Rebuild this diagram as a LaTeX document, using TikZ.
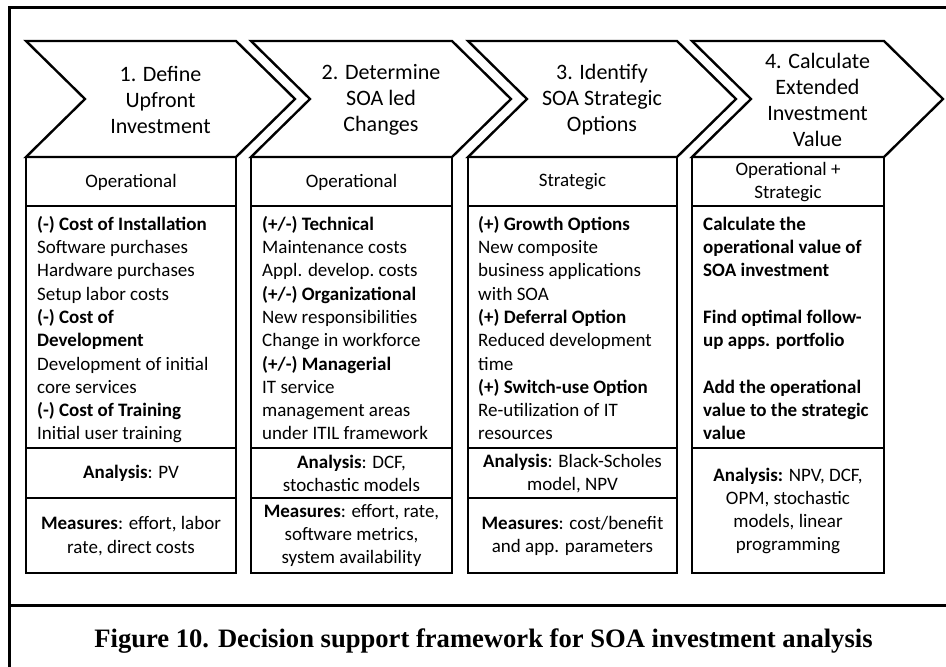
\documentclass[tikz,border=0pt]{standalone}
\usepackage{fontspec}
\setmainfont{Carlito}
\newfontfamily\capfont{Liberation Serif}
\begin{document}
\begin{tikzpicture}[
    x=1pt, y=-1pt,
    chev/.style={draw, line width=2.4pt, line join=miter},
    cell/.style={draw, line width=2.4pt},
    head/.style={align=center, inner sep=0, font=\fontsize{22}{26}\selectfont},
    kind/.style={align=center, inner sep=0, font=\fontsize{19}{23.3}\selectfont},
    body/.style={align=left, anchor=north west, inner sep=0, font=\fontsize{19}{23.3}\selectfont},
    info/.style={align=center, inner sep=0, font=\fontsize{19}{23.3}\selectfont}
]
    \useasboundingbox (0,0) rectangle (946,667);

    % Outer frame
    \draw[line width=3pt] (946,7) -- (9,7) -- (9,667);
    \draw[line width=3pt] (9,605) -- (946,605);

    % Step chevrons
    \foreach \L/\R/\txt [count=\i] in {26/236/{1. Define\\Upfront\\Investment},
        251/452/{2. Determine\\SOA led\\Changes},
        468/677/{3. Identify\\SOA Strategic\\Options},
        692/884/{4. Calculate\\Extended\\Investment\\Value}} {
        \draw[chev] (\L,41) -- (\R,41) -- (\R+59,99) -- (\R,157) -- (\L,157) -- (\L+59,99) -- cycle;
        \node[head] (step\i) at ({(\L+59+\R)/2},100) {\txt};
    }

    % Columns below the chevrons
    \foreach \L/\R in {26/236, 251/452, 468/677, 692/884} {
        \draw[cell] (\L,157) rectangle (\R,573);
        \draw[cell] (\L,206) -- (\R,206);
        \draw[cell] (\L,448) -- (\R,448);
    }
    \foreach \L/\R in {26/236, 251/452, 468/677} {
        \draw[cell] (\L,498) -- (\R,498);
    }

    % Value type
    \node[kind] (kind1) at (131,182) {Operational};
    \node[kind] (kind2) at (351.5,182) {Operational};
    \node[kind] (kind3) at (572.5,182) {Strategic};
    \node[kind] (kind4) at (788,182) {Operational +\\Strategic};

    % Cost and option items
    \node[body] (items1) at (37,213.7) {\strut\textbf{(-) Cost of Installation}\\Software purchases\\Hardware purchases\\Setup labor costs\\\textbf{(-) Cost of}\\\textbf{Development}\\Development of initial\\core services\\\textbf{(-) Cost of Training}\\Initial user training};
    \node[body] (items2) at (262,213.7) {\strut\textbf{(+/-) Technical}\\Maintenance costs\\Appl. develop.\ costs\\\textbf{(+/-) Organizational}\\New responsibilities\\Change in workforce\\\textbf{(+/-) Managerial}\\IT service\\management\ areas\\under ITIL framework};
    \node[body] (items3) at (478,213.7) {\strut\textbf{(+) Growth Options}\\New composite\\business applications\\with SOA\\\textbf{(+) Deferral Option}\\Reduced development\\time\\\textbf{(+) Switch-use Option}\\Re-utilization of IT\\resources};
    \node[body, font=\fontsize{19}{23.3}\selectfont\bfseries] (items4) at (703,213.7) {\strut Calculate the\\operational value of\\SOA investment\\[23.3pt]Find optimal follow-\\up apps. portfolio\\[23.3pt]Add the operational\\value to the strategic\\value};

    % Analysis
    \node[info] (ana1) at (131,473) {\textbf{Analysis}: PV};
    \node[info] (ana2) at (351.5,473.5) {\textbf{Analysis}: DCF,\\stochastic models};
    \node[info] (ana3) at (572.5,473.5) {\textbf{Analysis}: Black-Scholes\\model, NPV};
    \node[info] (ana4) at (788,511) {\textbf{Analysis:} NPV, DCF,\\OPM, stochastic\\models, linear\\programming};

    % Measures
    \node[info] (meas1) at (131,536) {\textbf{Measures}: effort, labor\\rate, direct costs};
    \node[info] (meas2) at (351.5,535.5) {\textbf{Measures}: effort, rate,\\software metrics,\\system availability};
    \node[info] (meas3) at (572.5,536) {\textbf{Measures}: cost/benefit\\and app. parameters};

    % Caption
    \node[font=\capfont\bfseries\fontsize{26.6}{30}\selectfont] (caption) at (483.5,641) {Figure 10. Decision support framework for SOA investment analysis};
\end{tikzpicture}
\end{document}
